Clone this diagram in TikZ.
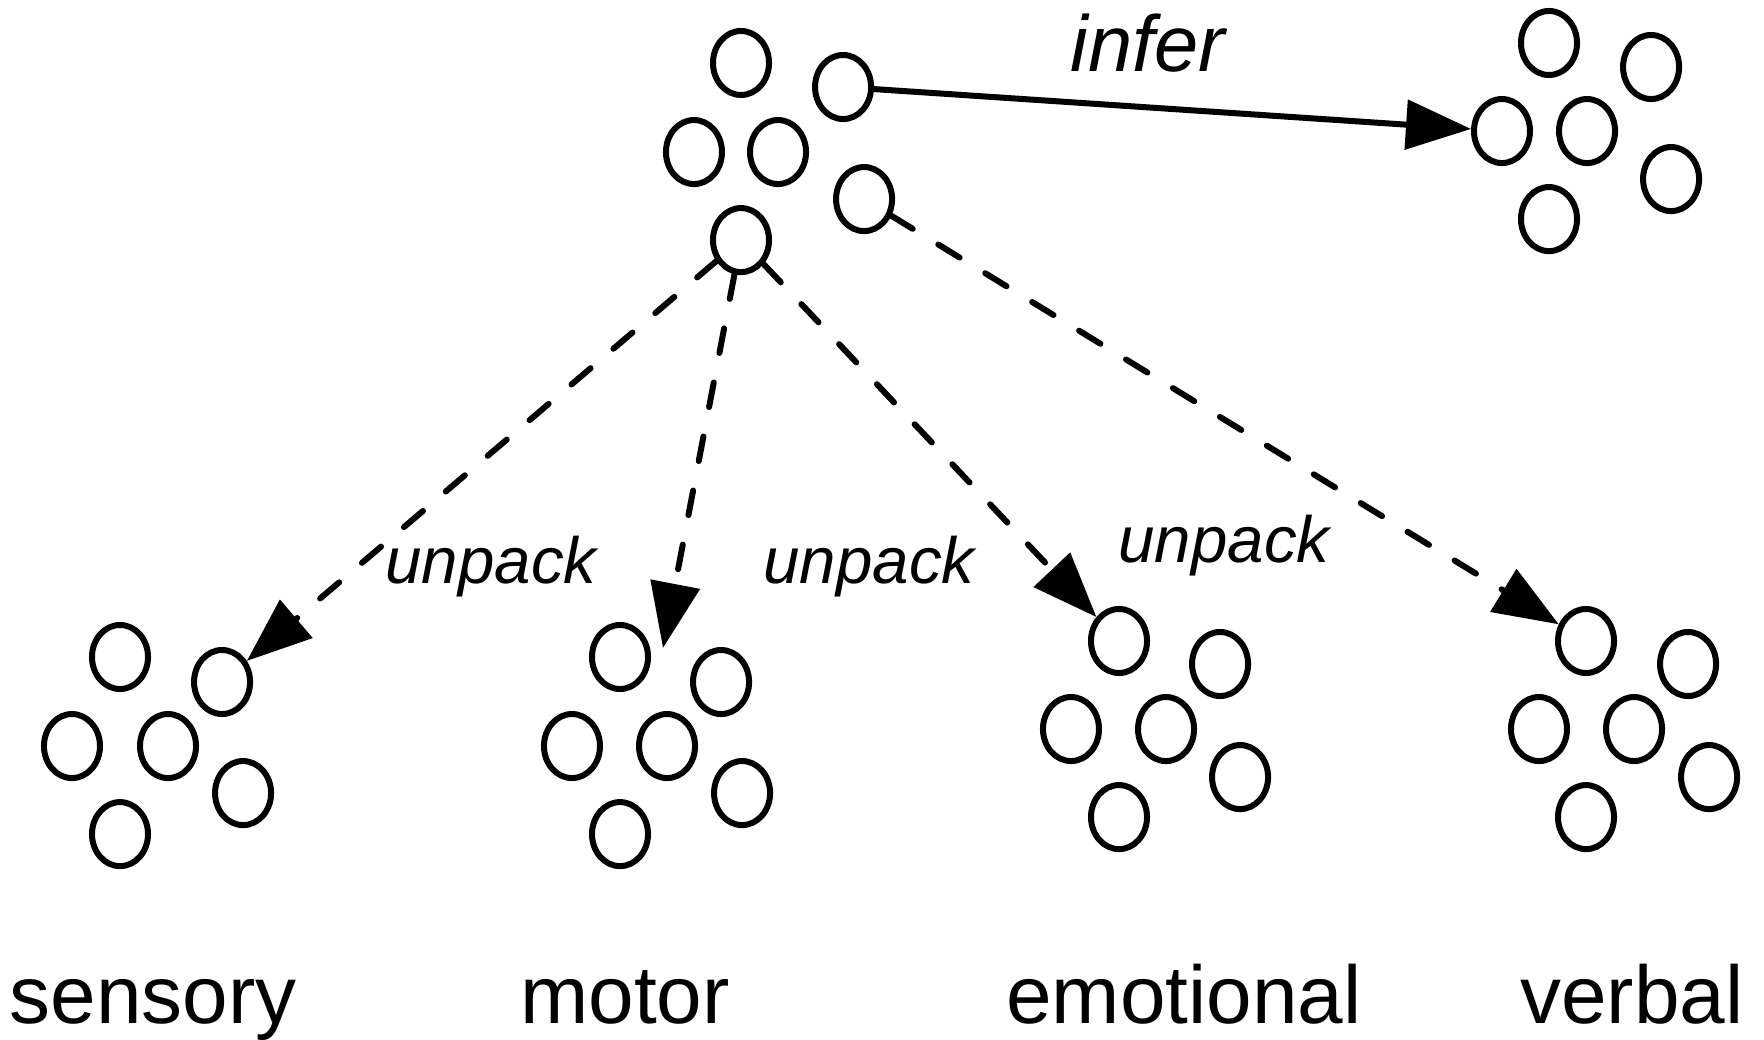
\documentclass[tikz,border=0pt]{standalone}
\usepackage{fontspec}
\setmainfont{Liberation Sans}
\usetikzlibrary{arrows.meta,shapes.geometric,positioning}

\begin{document}
\begin{tikzpicture}[x=0.01cm,y=-0.01cm,>={Triangle[length=0.65cm,width=0.49cm]},
                    line width=0.06cm,on grid]
  \tikzstyle{cell}=[ellipse,draw=black,inner sep=0pt,minimum width=0.56cm,minimum height=0.64cm]
  \tikzstyle{link}=[->,dash pattern=on 0.25cm off 0.30cm,line cap=round]
  \tikzstyle{tag}=[inner sep=0pt,anchor=base,font=\fontsize{23.3}{28}\selectfont]
  \tikzstyle{verb}=[inner sep=0pt,anchor=base,font=\itshape\fontsize{18.6}{22}\selectfont]

  \useasboundingbox (0,0) rectangle (1764,1040);

  % concept (top)
  \node[cell] (con1) at (741,63) {};
  \node[cell] (con2) [below right=0.24cm and 1.02cm of con1] {};
  \node[cell] (con3) [below left=0.89cm and 0.47cm of con1] {};
  \node[cell] (con4) [below right=0.89cm and 0.37cm of con1] {};
  \node[cell] (con5) [below right=1.36cm and 1.23cm of con1] {};
  \node[cell] (con6) [below=1.77cm of con1] {};

  % inferred (top right)
  \node[cell] (inf1) at (1549,43) {};
  \node[cell] (inf2) [below right=0.24cm and 1.02cm of inf1] {};
  \node[cell] (inf3) [below left=0.88cm and 0.47cm of inf1] {};
  \node[cell] (inf4) [below right=0.88cm and 0.38cm of inf1] {};
  \node[cell] (inf5) [below right=1.36cm and 1.22cm of inf1] {};
  \node[cell] (inf6) [below=1.76cm of inf1] {};

  % sensory
  \node[cell] (sen1) at (120,657) {};
  \node[cell] (sen2) [below right=0.25cm and 1.02cm of sen1] {};
  \node[cell] (sen3) [below left=0.89cm and 0.48cm of sen1] {};
  \node[cell] (sen4) [below right=0.89cm and 0.48cm of sen1] {};
  \node[cell] (sen5) [below right=1.36cm and 1.23cm of sen1] {};
  \node[cell] (sen6) [below=1.77cm of sen1] {};

  % motor
  \node[cell] (mot1) at (620,657) {};
  \node[cell] (mot2) [below right=0.25cm and 1.01cm of mot1] {};
  \node[cell] (mot3) [below left=0.89cm and 0.48cm of mot1] {};
  \node[cell] (mot4) [below right=0.89cm and 0.47cm of mot1] {};
  \node[cell] (mot5) [below right=1.36cm and 1.22cm of mot1] {};
  \node[cell] (mot6) [below=1.77cm of mot1] {};

  % emotional
  \node[cell] (emo1) at (1119,641) {};
  \node[cell] (emo2) [below right=0.23cm and 1.01cm of emo1] {};
  \node[cell] (emo3) [below left=0.88cm and 0.48cm of emo1] {};
  \node[cell] (emo4) [below right=0.88cm and 0.47cm of emo1] {};
  \node[cell] (emo5) [below right=1.36cm and 1.21cm of emo1] {};
  \node[cell] (emo6) [below=1.76cm of emo1] {};

  % verbal
  \node[cell] (ver1) at (1586,641) {};
  \node[cell] (ver2) [below right=0.23cm and 1.02cm of ver1] {};
  \node[cell] (ver3) [below left=0.88cm and 0.47cm of ver1] {};
  \node[cell] (ver4) [below right=0.88cm and 0.48cm of ver1] {};
  \node[cell] (ver5) [below right=1.36cm and 1.23cm of ver1] {};
  \node[cell] (ver6) [below=1.76cm of ver1] {};

  \coordinate (motTip) at (663,648);

  \path (con2) edge[->] (inf3)
        (con6) edge[link] (sen2)
               edge[link] (motTip)
               edge[link] (emo1)
        (con5) edge[link] (ver1);

  \node[verb,font=\itshape\fontsize{22.6}{26}\selectfont] (inferTxt) at (1148,72) {infer};
  \node[verb] (unpackA) at (491,583) {unpack};
  \node[verb] (unpackB) at (869,583) {unpack};
  \node[verb] (unpackC) at (1224,562) {unpack};

  \node[tag] (senTxt) at (153,1023) {sensory};
  \node[tag] (motTxt) at (625,1023) {motor};
  \node[tag] (emoTxt) at (1184,1023) {emotional};
  \node[tag] (verTxt) at (1632,1023) {verbal};
\end{tikzpicture}
\end{document}
